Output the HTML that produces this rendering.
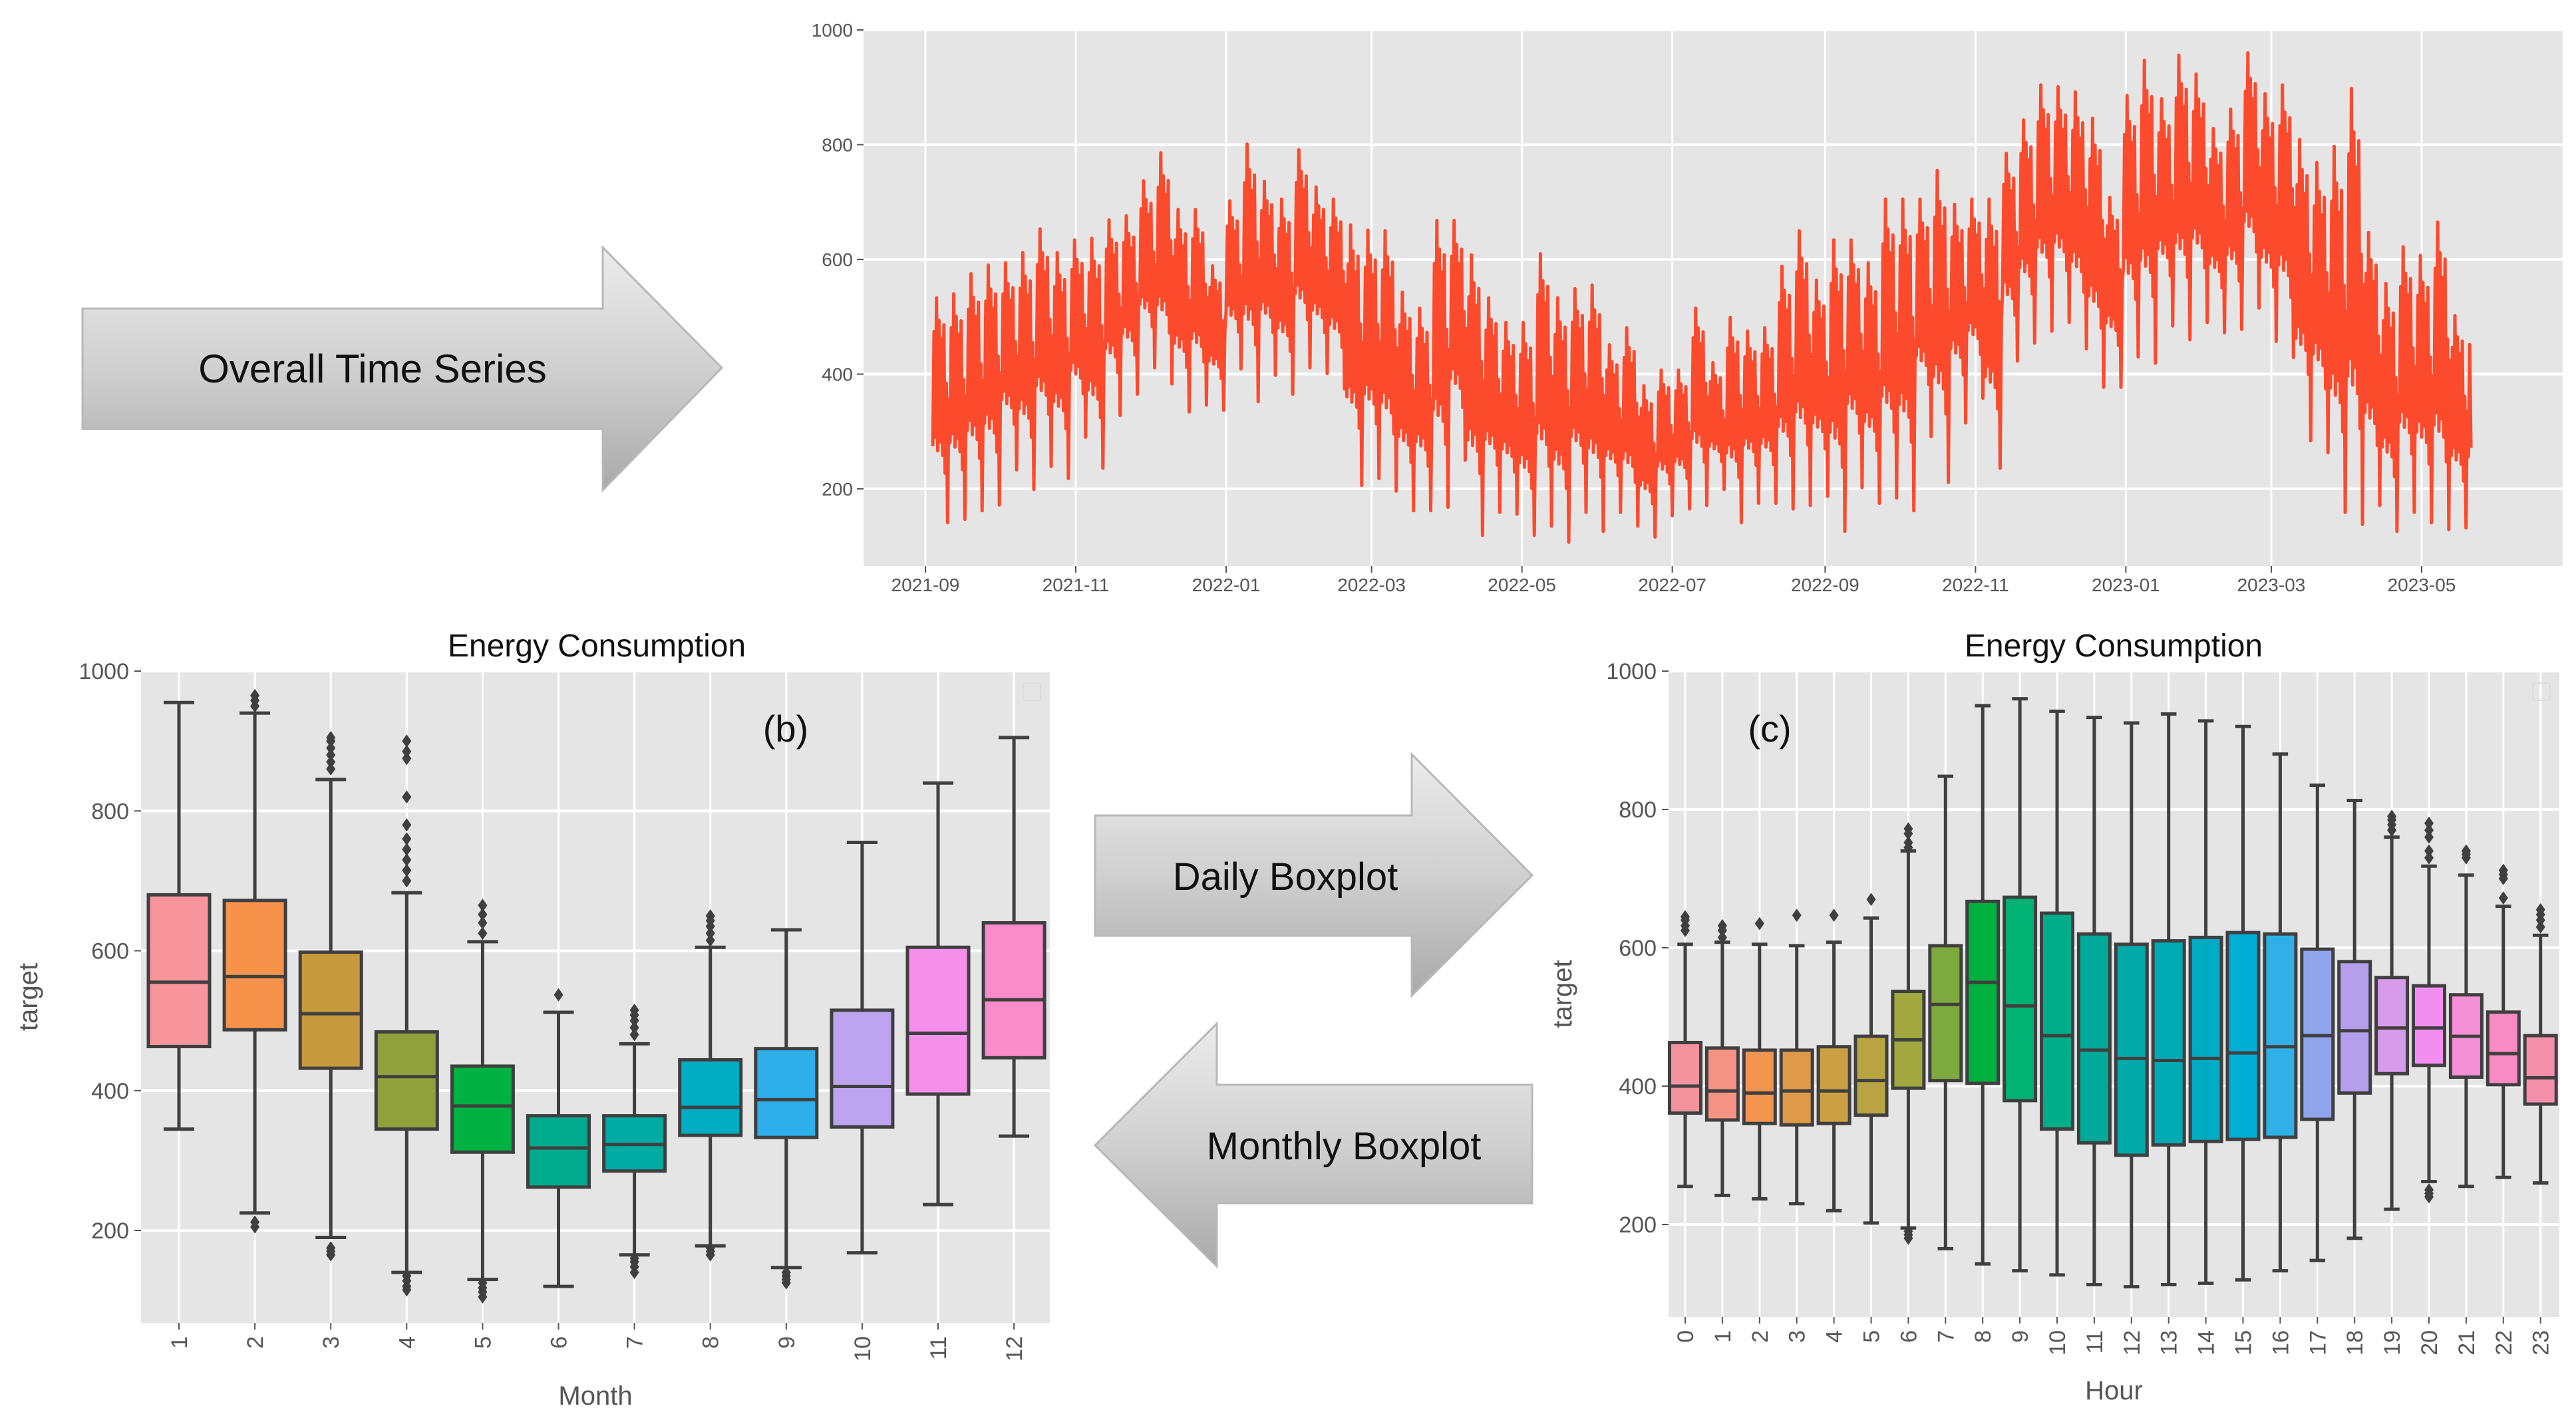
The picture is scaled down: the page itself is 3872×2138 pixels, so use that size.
<!DOCTYPE html>
<html><head><meta charset="utf-8">
<style>
html,body{margin:0;padding:0;background:#fff;}
svg{display:block;font-family:"Liberation Sans",sans-serif;}
</style></head>
<body>
<svg id="root" width="3872" height="2138" viewBox="0 0 3872 2138" xmlns="http://www.w3.org/2000/svg">
<defs>
<linearGradient id="ag" x1="0" y1="0" x2="0" y2="1">
<stop offset="0" stop-color="#ececec"/><stop offset="0.5" stop-color="#d0d0d0"/><stop offset="1" stop-color="#a9a9a9"/>
</linearGradient>
</defs>
<g>
<polygon points="124,464 906,464 906,372 1085,553 906,737 906,645 124,645" fill="url(#ag)" stroke="#b8b8b8" stroke-width="3"/>
<text x="560" y="575" font-size="60" text-anchor="middle" fill="#111">Overall Time Series</text>
</g>
<g>
<polygon points="1646,1226 2122,1226 2122,1134 2303,1316 2122,1497 2122,1407 1646,1407" fill="url(#ag)" stroke="#b8b8b8" stroke-width="3"/>
<text x="1932" y="1338" font-size="58" text-anchor="middle" fill="#111">Daily Boxplot</text>
</g>
<g>
<polygon points="2303,1631 1829,1631 1829,1539 1646,1722 1829,1904 1829,1809 2303,1809" fill="url(#ag)" stroke="#b8b8b8" stroke-width="3"/>
<text x="2020" y="1743" font-size="58" text-anchor="middle" fill="#111">Monthly Boxplot</text>
</g>
<g id="ts"></g>
<g id="bm"></g>
<g id="bh"></g>
</svg>
<script>
// ---- time series data (weekly envelope) ----
const tsStart = "2021-09-04";
const tsEnd = "2023-05-21";
const tsWeeklyHigh = [533,540,575,590,594,612,653,612,634,637,669,676,737,786,687,687,589,702,801,736,705,791,726,705,660,651,650,543,515,668,
 668,608,533,490,490,610,533,549,555,451,481,380,407,407,515,420,499,475,481,588,650,564,634,634,594,705,705,705,755,696,705,
 705,785,843,904,901,892,846,708,886,947,880,956,923,828,862,960,889,904,809,769,797,898,647,558,622,607,665,502,509];
const tsWeeklyLow = [141,147,162,172,233,199,239,218,290,236,328,365,411,383,334,346,337,409,352,398,365,411,401,374,206,218,196,162,162,168,
 250,119,159,156,119,135,107,159,126,159,135,116,153,165,171,199,141,175,175,165,171,187,126,202,175,184,162,291,211,315,358,
 236,423,454,475,490,444,377,377,430,419,484,460,490,472,478,515,457,429,284,263,159,138,171,126,159,141,129,132,126];
const tsYTicks = [200,400,600,800,1000];
const tsXTicks = ["2021-09","2021-11","2022-01","2022-03","2022-05","2022-07","2022-09","2022-11","2023-01","2023-03","2023-05"];

// ---- monthly boxplot data ----
const monthCats = ["1","2","3","4","5","6","7","8","9","10","11","12"];
const monthQ1 = [463,487,432,345,312,262,285,336,333,348,395,447];
const monthMed = [555,563,510,420,378,318,323,376,387,406,482,530];
const monthQ3 = [680,672,598,484,435,364,364,444,460,515,605,640];
const monthLoW = [345,225,190,140,130,120,165,178,147,168,237,335];
const monthHiW = [955,940,845,683,613,512,467,605,630,755,840,905];
const monthOut = [[],[950,958,965,205,212],[860,870,880,890,900,905,165,170,175],[700,715,730,745,760,780,820,875,885,900,115,120,128,135],[625,640,652,665,105,112,118,125],[537],[480,490,500,508,515,140,148,155,160],[615,625,635,643,650,165,170,175],[125,130,135,140],[],[],[]];
const monthColors = ["#f7949c","#f7924b","#c89a3e","#90a03b","#00b241","#00ab8d","#00aba3","#00adc2","#2eaeea","#bda4ee","#f590ea","#f98cc9"];
const boxYTicks = [200,400,600,800,1000];

// ---- hourly boxplot data ----
const hourCats = ["0","1","2","3","4","5","6","7","8","9","10","11","12","13","14","15","16","17","18","19","20","21","22","23"];
const hourQ1 = [361,351,346,344,346,358,397,408,404,379,338,318,300,315,320,323,326,352,390,418,430,413,402,374];
const hourMed = [400,393,390,393,393,408,467,518,550,516,473,452,440,437,440,448,457,473,480,484,484,472,447,412];
const hourQ3 = [463,455,452,452,457,472,537,603,667,673,650,620,605,610,615,622,620,598,580,557,545,532,507,473];
const hourLoW = [255,242,237,230,220,202,195,165,143,133,127,113,110,113,115,120,133,148,180,222,262,255,268,260];
const hourHiW = [605,608,605,603,608,643,740,848,950,960,942,933,925,938,928,920,880,835,813,760,718,705,660,618];
const hourOut = [[625,632,640,645],[615,625,632],[635],[647],[647],[670],[745,752,765,772,180,185,190],[],[],[],[],[],[],[],[],[],[],[],[],[770,778,785,790],[730,740,760,770,780,240,245,250],[730,735,740],[672,700,706,712],[630,640,648,655]];
const hourColors = ["#f4939b","#f59383","#f3944f","#de9a48","#cba043","#b9a444","#a0a83e","#7daa3e","#00b140","#00b374","#00ad8a","#00aa9a","#00aaa8","#00aab4","#00acc3","#00aed6","#30b0e6","#8fa6ec","#b49fed","#d69ce9","#f28ef0","#f58fd6","#f88bc1","#f590ac"];

const NS = "http://www.w3.org/2000/svg";
function mk(parent, tag, attrs, txt){
  const el = document.createElementNS(NS, tag);
  for (const k in attrs) el.setAttribute(k, attrs[k]);
  if (txt !== undefined) el.textContent = txt;
  parent.appendChild(el);
  return el;
}
function parseDate(s){ const [a,b,c] = s.split('-').map(Number); return Date.UTC(a,b-1,c||1); }

// ================= time series =================
(function(){
  const g = document.getElementById('ts');
  const L=1298, R=3852, T=45, B=851;
  const yS = v => 45 + (1000 - v) * (690/800);
  const d0 = Date.UTC(2021,8,1);
  const xS = ms => 1391 + (ms - d0)/86400000 * (2249/607);
  const bg = mk(g,'rect',{x:L,y:T,width:R-L,height:B-T,fill:'#e5e5e5'});
  
  
  tsYTicks.forEach(v=>{
    const gl = mk(g,'line',{x1:L,x2:R,y1:yS(v),y2:yS(v),stroke:'#fff','stroke-width':4});
    
    
    mk(g,'line',{x1:L-10,x2:L,y1:yS(v),y2:yS(v),stroke:'#555','stroke-width':2});
    const t = mk(g,'text',{x:L-16,y:yS(v)+10,'font-size':28,'text-anchor':'end',fill:'#555'}, String(v));
    
    
  });
  tsXTicks.forEach(s=>{
    const x = xS(parseDate(s));
    const gl = mk(g,'line',{x1:x,x2:x,y1:T,y2:B,stroke:'#fff','stroke-width':3});
    
    
    mk(g,'line',{x1:x,x2:x,y1:B,y2:B+10,stroke:'#555','stroke-width':2});
    const t = mk(g,'text',{x:x,y:B+38,'font-size':28,'text-anchor':'middle',fill:'#555'}, s);
    
    
  });
  const s0 = parseDate(tsStart);
  const sEnd = parseDate(tsEnd);
  const dayShape = [[0.34,0.85],[0.38,1.0],[0.32,0.9],[0.36,0.82],[0.30,0.88],[0.22,0.62],[0.0,0.55]];
  let pts = [];
  for (let w=0; w<tsWeeklyHigh.length; w++){
    const hi = tsWeeklyHigh[w], lo = tsWeeklyLow[w];
    for (let d=0; d<7; d++){
      for (let h=0; h<2; h++){
        const ms = s0 + (w*7 + d + h*0.5)*86400000;
        if (ms > sEnd) continue;
        const v = lo + dayShape[d][h]*(hi-lo);
        pts.push(xS(ms).toFixed(1)+','+yS(v).toFixed(1));
      }
    }
  }
  const line = mk(g,'polyline',{points:pts.join(' '),fill:'none',stroke:'#fc4a2d','stroke-width':5,'stroke-linejoin':'round'});
  
  
})();

// ================= boxplots =================
function boxChart(gid, cfg){
  const g = document.getElementById(gid);
  const {L,R,T,B,v1000y,pxPerUnit,c0,step,bw,cats,q1,med,q3,lo,hi,outs,colors,title,titleX,tag,tagX,xlabel,xlabelY,ylabX} = cfg;
  const yS = v => v1000y + (1000-v)*pxPerUnit;
  const xS = i => c0 + i*step;
  const bg = mk(g,'rect',{x:L,y:T,width:R-L,height:B-T,fill:'#e5e5e5'});
  
  
  boxYTicks.forEach(v=>{
    const gl = mk(g,'line',{x1:L,x2:R,y1:yS(v),y2:yS(v),stroke:'#fff','stroke-width':4});
    
    
    mk(g,'line',{x1:L-10,x2:L,y1:yS(v),y2:yS(v),stroke:'#555','stroke-width':2});
    const t = mk(g,'text',{x:L-18,y:yS(v)+12,'font-size':34,'text-anchor':'end',fill:'#555'}, String(v));
    
    
  });
  cats.forEach((c,i)=>{
    const x = xS(i);
    const gl = mk(g,'line',{x1:x,x2:x,y1:T,y2:B,stroke:'#fff','stroke-width':3});
    
    
    mk(g,'line',{x1:x,x2:x,y1:B,y2:B+10,stroke:'#555','stroke-width':2});
    const t = mk(g,'text',{x:0,y:0,'font-size':34,'text-anchor':'end',fill:'#555',transform:`translate(${x+12},${B+20}) rotate(-90)`}, c);
    
    
  });
  const sc = '#3f3f3f';
  cats.forEach((c,i)=>{
    const x = xS(i);
    const bx = mk(g,'g',{});
    
    
    mk(bx,'line',{x1:x,x2:x,y1:yS(hi[i]),y2:yS(q3[i]),stroke:sc,'stroke-width':5});
    mk(bx,'line',{x1:x,x2:x,y1:yS(q1[i]),y2:yS(lo[i]),stroke:sc,'stroke-width':5});
    mk(bx,'line',{x1:x-bw/4,x2:x+bw/4,y1:yS(hi[i]),y2:yS(hi[i]),stroke:sc,'stroke-width':5});
    mk(bx,'line',{x1:x-bw/4,x2:x+bw/4,y1:yS(lo[i]),y2:yS(lo[i]),stroke:sc,'stroke-width':5});
    mk(bx,'rect',{x:x-bw/2,y:yS(q3[i]),width:bw,height:yS(q1[i])-yS(q3[i]),fill:colors[i],stroke:sc,'stroke-width':5});
    mk(bx,'line',{x1:x-bw/2,x2:x+bw/2,y1:yS(med[i]),y2:yS(med[i]),stroke:sc,'stroke-width':5});
    outs[i].forEach(v=>{
      const y = yS(v);
      mk(bx,'polygon',{points:`${x},${y-10} ${x+7},${y} ${x},${y+10} ${x-7},${y}`,fill:sc});
    });
  });
  const tt = mk(g,'text',{x:titleX,y:T-22,'font-size':48,'text-anchor':'middle',fill:'#111'}, title);
  
  
  const tg = mk(g,'text',{x:tagX,y:1115,'font-size':56,'text-anchor':'middle',fill:'#111'}, '('+tag+')');
  
  
  const xl = mk(g,'text',{x:(L+R)/2,y:xlabelY,'font-size':40,'text-anchor':'middle',fill:'#555'}, xlabel);
  
  
  const yl = mk(g,'text',{x:0,y:0,'font-size':40,'text-anchor':'middle',fill:'#555',transform:`translate(${ylabX},${(T+B)/2}) rotate(-90)`}, 'target');
  
  
  const lg = mk(g,'rect',{x:R-40,y:T+18,width:26,height:26,fill:'none',stroke:'#ddd','stroke-width':2,rx:3});
  
  
}
boxChart('bm',{L:212,R:1578,T:1009,B:1989,v1000y:1009,pxPerUnit:841/800,c0:269,step:114.1,bw:92,
  cats:monthCats,q1:monthQ1,med:monthMed,q3:monthQ3,lo:monthLoW,hi:monthHiW,outs:monthOut,colors:monthColors,
  title:'Energy Consumption',titleX:897,tag:'b',tagX:1181,xlabel:'Month',xlabelY:2112,ylabX:56});
boxChart('bh',{L:2508,R:3847,T:1009,B:1980,v1000y:1009,pxPerUnit:832/800,c0:2533,step:55.9,bw:47,
  cats:hourCats,q1:hourQ1,med:hourMed,q3:hourQ3,lo:hourLoW,hi:hourHiW,outs:hourOut,colors:hourColors,
  title:'Energy Consumption',titleX:3177,tag:'c',tagX:2660,xlabel:'Hour',xlabelY:2104,ylabX:2362});
</script>
</body></html>
